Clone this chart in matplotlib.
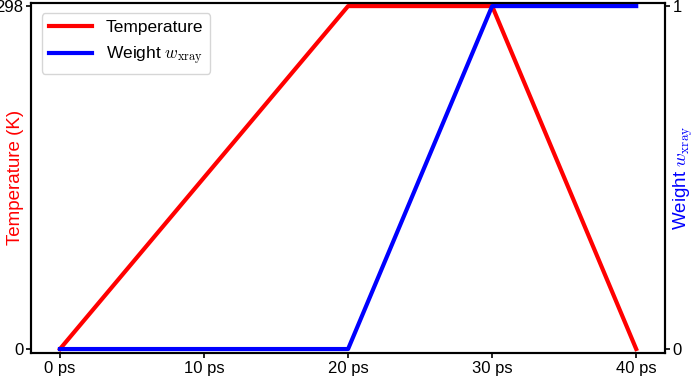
import numpy as np
import matplotlib
matplotlib.use("Agg")
import matplotlib.pyplot as plt

plt.rcParams['font.family'] = 'Liberation Sans'
plt.rcParams['mathtext.fontset'] = 'cm'
plt.rcParams['font.size'] = 12

# data
time_ps = [0, 20, 30, 40]
temperature = [0, 298, 298, 0]
weight = [0, 0, 1, 1]
xticks = [0, 10, 20, 30, 40]
xticklabels = ['{} ps'.format(t) for t in xticks]

fig = plt.figure(figsize=(6.92, 3.76), dpi=100)
ax1 = fig.add_subplot(111)
ax2 = ax1.twinx()

l1, = ax1.plot(time_ps, temperature, c='red', linewidth=3, label='Temperature')
l2, = ax2.plot(time_ps, weight, c='blue', linewidth=3, label=r'Weight $w_{\mathrm{xray}}$')

ax1.set_xlim(-2, 42)
ax1.set_ylim(-3.5, 301)
ax2.set_ylim(-3.5 / 298, 301 / 298)

ax1.set_xticks(xticks)
ax1.set_xticklabels(xticklabels)
ax1.set_yticks([0, 298])
ax2.set_yticks([0, 1])

for ax in (ax1, ax2):
    ax.tick_params(length=3.5, width=1.2, pad=2, labelsize=12)
    for sp in ax.spines.values():
        sp.set_linewidth(1.5)

ax1.set_ylabel('Temperature (K)', color='red', fontsize=13.5)
ax2.set_ylabel(r'Weight $w_{\mathrm{xray}}$', color='blue', fontsize=13.5)
ax1.yaxis.set_label_coords(-0.012, 0.5)
ax2.yaxis.set_label_coords(1.011, 0.5)

ax1.legend(handles=[l1, l2], loc='upper left', fontsize=12.5, handlelength=2.5,
           borderaxespad=0.6)

plt.subplots_adjust(left=0.045, right=0.961, top=0.993, bottom=0.061)
plt.savefig('out.png', dpi=100)
